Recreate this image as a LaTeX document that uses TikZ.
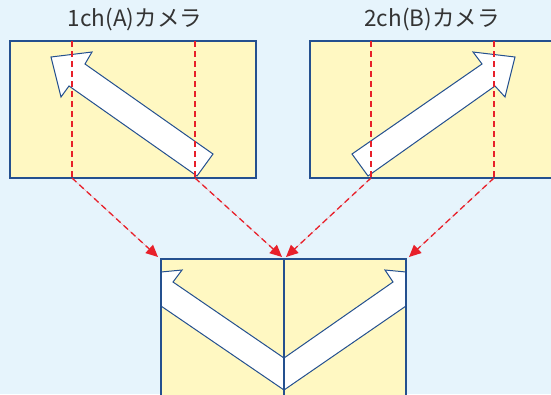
\documentclass[tikz,border=0pt]{standalone}
\usepackage{fontspec}
\setmainfont{Noto Sans CJK JP}
\usetikzlibrary{arrows.meta}
\definecolor{skyback}{HTML}{E6F4FC}
\definecolor{camyellow}{HTML}{FFF8C2}
\definecolor{framblue}{HTML}{24508F}
\definecolor{cutred}{HTML}{E8202A}
\tikzset{
  camframe/.style={draw=framblue,line width=2.2pt,fill=camyellow},
  bigarrow/.style={draw=framblue,line width=1pt,fill=white,line join=miter},
  cutline/.style={draw=cutred,line width=1.3pt,dash pattern=on 6pt off 4pt},
  mapline/.style={cutline,-{Triangle[length=12pt,width=11pt]},fill=cutred},
  camtitle/.style={font=\fontsize{22.5}{25}\selectfont,text=black!80}
}
\begin{document}
\begin{tikzpicture}[x=1pt,y=-1pt]
        \clip (0,0) rectangle (551,394);
        \fill[skyback] (0,0) rectangle (551,394);

        % cameras
        \draw[camframe] (10,41) rectangle (256,178);
        \draw[camframe] (310,41) rectangle (562,178);
        \node[camtitle] (TA) at (135,20) {1ch(A)カメラ};
        \node[camtitle] (TB) at (432,20) {2ch(B)カメラ};

        \draw[bigarrow] (51,57) -- (92,52) -- (85,64) -- (213,154)
          -- (197,176) -- (69,86) -- (61,97) -- cycle;
        \draw[bigarrow] (515,57) -- (473,52) -- (482,64) -- (352,154)
          -- (368,176) -- (495,86) -- (505,97) -- cycle;

        % cut positions
        \coordinate (A1) at (72,178);
        \coordinate (A2) at (195,178);
        \coordinate (B1) at (371,178);
        \coordinate (B2) at (494,178);
        \draw[cutline] (72,41) -- (A1);
        \draw[cutline] (195,41) -- (A2);
        \draw[cutline] (371,41) -- (B1);
        \draw[cutline] (494,41) -- (B2);

        % combined picture
        \fill[camyellow] (161,259) rectangle (406,400);
        \draw[bigarrow] (161,272) -- (182,270) -- (173,282) -- (284,358)
          -- (284,390) -- (161,306) -- cycle;
        \draw[bigarrow] (406,272) -- (385,270) -- (393,282) -- (284,358)
          -- (284,390) -- (406,306) -- cycle;
        \draw[framblue,line width=2.2pt] (161,400) -- (161,259) -- (406,259) -- (406,400);
        \draw[framblue,line width=2.2pt] (284,259) -- (284,400);
        \coordinate (C1) at (158,257);
        \coordinate (C2) at (282,257);
        \coordinate (C3) at (286,257);
        \coordinate (C4) at (409,257);

        \draw[mapline] (A1) -- (C1);
        \draw[mapline] (A2) -- (C2);
        \draw[mapline] (B1) -- (C3);
        \draw[mapline] (B2) -- (C4);
    \end{tikzpicture}
\end{document}
